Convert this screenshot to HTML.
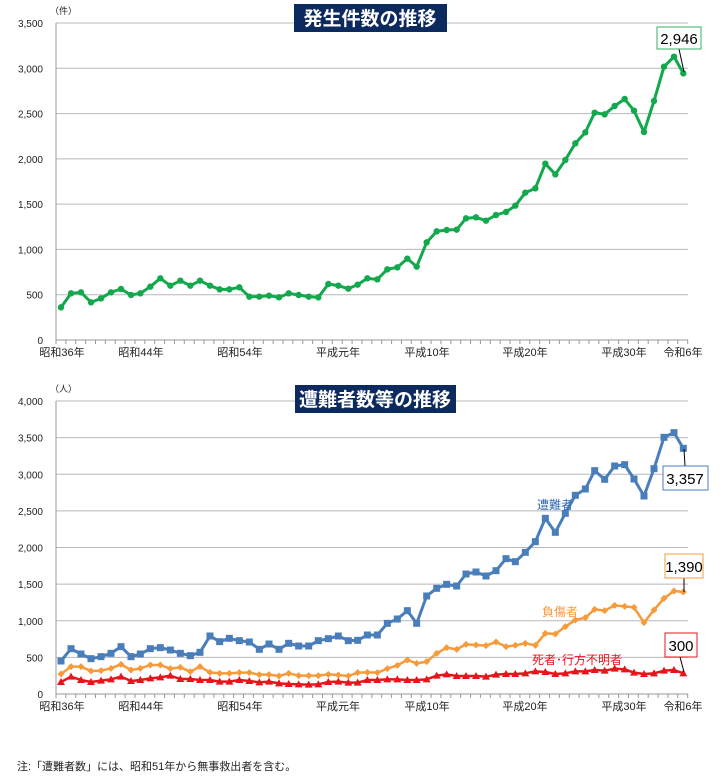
<!DOCTYPE html><html><head><meta charset="utf-8"><style>
body{margin:0;background:#fff;width:721px;height:779px;overflow:hidden;font-family:"Liberation Sans","Noto Sans CJK JP",sans-serif}
</style></head><body>
<svg id="s" width="721" height="779" xmlns="http://www.w3.org/2000/svg" font-family="Liberation Sans, Noto Sans CJK JP, sans-serif"></svg>
<script>
var s=document.getElementById('s'),h='';
function X1(i){return i<31?[61,71,81,91,101,111,121,131,140,150,160,170,180,190,200,210,220,229,239,249,259,269,279,289,299,309,318,328,338,348,358][i]:null}
var xa=[183,213,243,273,303,333,363,393,421,451,481,511,541,571,600,630,659,688,718,748,778,807,837,866,896,926,955,985,1015,1045,1073].map(v=>v/3);
var xb=[22,52,82,112,142,170,200,230,260,290,318,348,378,408,438,466,496,526,556,586,616,646,676,704,734,764,794,822,852,882,912,942,970].map(v=>360+v/3);
var XS=xa.concat(xb);
// top
var gA=[922,880,877,907,895,877,867,885,880,860,835,857,842,857,842,857,868,868,862,890,890,887,892,880,885,890,892,852,857,866,854].map(v=>v/3);
var gB=[835,838,808,802,776,800,727,694,690,689,655,652,662,645,636,617,578,565,491,523,480,430,397,338,343,318,297,332,396,303,200,170,220].map(v=>v/3);
var G=gA.concat(gB);
function grid(y0,y1,n,labs){var r='';for(var k=0;k<=n;k++){var y=y0-(y0-y1)*k/n;if(k>0)r+='<line x1="56" x2="688" y1="'+y+'" y2="'+y+'" stroke="#b8b8b8" stroke-width="1"/>';r+='<text x="43" y="'+(y+4)+'" font-size="10" text-anchor="end" fill="#222">'+labs[k]+'</text>';}
r+='<line x1="56" x2="56" y1="'+y1+'" y2="'+y0+'" stroke="#999"/><line x1="56" x2="688" y1="'+y0+'" y2="'+y0+'" stroke="#999"/>';
for(var k=0;k<=64;k++){var x=56+k*9.87;r+='<line x1="'+x+'" x2="'+x+'" y1="'+y0+'" y2="'+(y0+4)+'" stroke="#999"/>';}
var L=[['昭和36年',62],['昭和44年',141],['昭和54年',240],['平成元年',338],['平成10年',427],['平成20年',525],['平成30年',624],['令和6年',683]];
L.forEach(function(l){r+='<text x="'+l[1]+'" y="'+(y0+16)+'" font-size="11" text-anchor="middle" fill="#222">'+l[0]+'</text>'});return r;}
h+=grid(340,23,7,['0','500','1,000','1,500','2,000','2,500','3,000','3,500']);
h+='<text x="50" y="14" font-size="9" fill="#222">（件）</text>';
h+='<rect x="294" y="4" width="153" height="28" fill="#0c2a5e"/><text x="370" y="25" font-size="19" font-weight="bold" fill="#fff" text-anchor="middle">発生件数の推移</text>';
function pl(Y,col,w){return '<polyline fill="none" stroke="'+col+'" stroke-width="'+w+'" stroke-linejoin="round" points="'+Y.map((y,i)=>XS[i]+','+y).join(' ')+'"/>';}
h+=pl(G,'#12a84c',3);G.forEach((y,i)=>h+='<circle cx="'+XS[i]+'" cy="'+y+'" r="3.2" fill="#12a84c"/>');
h+='<line x1="679" y1="49" x2="684" y2="72" stroke="#000"/><rect x="657" y="27" width="44" height="22" fill="#fff" stroke="#35b06a"/><text x="679" y="44" font-size="15" text-anchor="middle">2,946</text>';
// bottom
var c=v=>380+v/3;
var B=[843,806,822,836,830,820,800,830,822,806,803,810,820,827,817,768,785,775,782,786,808,792,808,790,798,798,782,776,768,782,781,765,765,730,717,692,730,648,625,613,618,582,576,588,572,536,545,517,485,415,457,400,346,327,272,298,258,254,297,348,266,172,158,205].map(c);
var O=[882,860,860,873,872,865,853,870,865,855,855,866,862,875,860,877,880,880,878,878,884,884,888,880,887,887,887,883,885,888,878,877,878,866,856,840,850,845,820,803,808,793,795,797,786,800,796,790,796,760,762,740,720,713,688,692,676,679,682,728,690,655,633,636].map(c);
var R=[906,890,900,906,902,898,890,903,900,895,892,887,897,897,900,900,905,905,900,903,907,905,910,912,913,914,913,906,905,908,908,900,900,898,898,900,900,898,887,883,888,888,888,890,884,882,882,880,874,876,882,880,874,874,870,872,866,868,878,882,880,872,870,880].map(c);
h+=grid(694,401,8,['0','500','1,000','1,500','2,000','2,500','3,000','3,500','4,000']);
h+='<text x="50" y="392" font-size="9" fill="#222">（人）</text>';
h+='<rect x="295" y="385" width="161" height="28" fill="#0c2a5e"/><text x="375" y="406" font-size="19" font-weight="bold" fill="#fff" text-anchor="middle">遭難者数等の推移</text>';
h+=pl(B,'#4a7ebb',3);B.forEach((y,i)=>h+='<rect x="'+(XS[i]-3.5)+'" y="'+(y-3.5)+'" width="7" height="7" fill="#4a7ebb"/>');
h+=pl(O,'#f79a3a',2.5);O.forEach((y,i)=>h+='<path d="M'+XS[i]+' '+(y-3.5)+'l3.5 3.5l-3.5 3.5l-3.5-3.5z" fill="#f79a3a"/>');
h+=pl(R,'#e8141a',2.5);R.forEach((y,i)=>h+='<path d="M'+XS[i]+' '+(y-4)+'l4 7h-8z" fill="#e8141a"/>');
h+='<line x1="684" y1="449" x2="685" y2="466" stroke="#000"/><rect x="663" y="466" width="45" height="24" fill="#fff" stroke="#4a7ebb"/><text x="685" y="484" font-size="15" text-anchor="middle">3,357</text>';
h+='<line x1="684" y1="578" x2="684" y2="592" stroke="#000"/><rect x="665" y="554" width="38" height="24" fill="#fff" stroke="#f79a3a"/><text x="684" y="572" font-size="15" text-anchor="middle">1,390</text>';
h+='<line x1="680" y1="657" x2="684" y2="672" stroke="#000"/><rect x="665" y="633" width="32" height="24" fill="#fff" stroke="#e8141a"/><text x="681" y="651" font-size="15" text-anchor="middle">300</text>';
h+='<text x="555" y="509" font-size="12" fill="#2e6db4" text-anchor="middle">遭難者</text>';
h+='<text x="560" y="616" font-size="12" fill="#f79a3a" text-anchor="middle">負傷者</text>';
h+='<text x="577" y="664" font-size="12" fill="#e8141a" text-anchor="middle">死者･行方不明者</text>';
h+='<text x="17" y="770" font-size="11" fill="#222">注:「遭難者数」には、昭和51年から無事救出者を含む。</text>';
s.innerHTML=h;
</script></body></html>
